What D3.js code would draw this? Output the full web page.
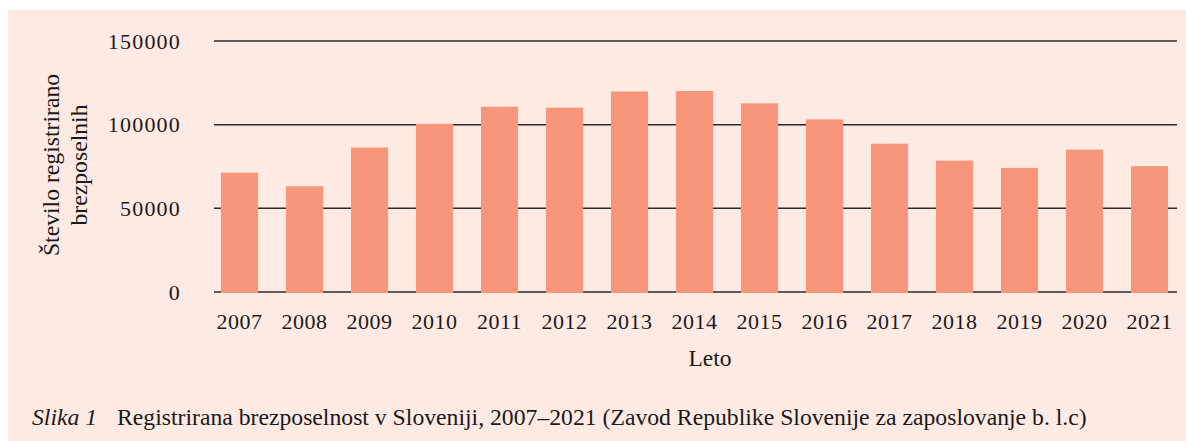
<!DOCTYPE html>
<html>
<head>
<meta charset="utf-8">
<script src="https://cdn.jsdelivr.net/npm/d3@7"></script>
<style>
  body { margin: 0; background: #fff; }
  text { font-family: "Liberation Serif", serif; fill: #1a1a1a; }
</style>
</head>
<body>
<div class="chart"></div>
<script>
// data
const years = ["2007","2008","2009","2010","2011","2012","2013","2014","2015","2016","2017","2018","2019","2020","2021"]
const unemployed = [71336, 63216, 86354, 100504, 110692, 110183, 119827, 120109, 112726, 103152, 88648, 78534, 74178, 85062, 75187]
const yTicks = [0, 50000, 100000, 150000]

const w = 1186
const h = 441

const svg = d3.select(".chart")
  .append("svg")
    .attr("width", w)
    .attr("height", h)

// pink panel
svg.append("rect")
  .attr("x", 8).attr("y", 10)
  .attr("width", w - 8).attr("height", h - 10)
  .attr("fill", "#fdeae3")

const x = d3.scaleBand()
  .domain(years)
  .range([207, 1182])
  .paddingInner(0.43)
  .paddingOuter(0.215)

const y = d3.scaleLinear()
  .domain([0, 150000])
  .range([292, 41])

// gridlines
svg.append("g")
  .selectAll("line")
  .data(yTicks)
  .join("line")
    .attr("x1", 214)
    .attr("x2", 1177)
    .attr("y1", d => y(d))
    .attr("y2", d => y(d))
    .attr("stroke", "#2e2a28")
    .attr("stroke-width", 1.5)

// y tick labels
svg.append("g")
  .selectAll("text")
  .data(yTicks)
  .join("text")
    .attr("x", 181)
    .attr("y", d => y(d) + 7.5)
    .attr("text-anchor", "end")
    .attr("font-size", 22)
    .attr("letter-spacing", 1.2)
    .text(d => d)

// bars
svg.append("g")
  .selectAll("rect")
  .data(unemployed)
  .join("rect")
    .attr("x", (d, i) => x(years[i]))
    .attr("width", x.bandwidth())
    .attr("y", d => y(d))
    .attr("height", d => y(0) - y(d) + 1)
    .attr("fill", "#f7967a")

// x tick labels
svg.append("g")
  .selectAll("text")
  .data(years)
  .join("text")
    .attr("x", d => x(d) + x.bandwidth() / 2)
    .attr("y", 329)
    .attr("text-anchor", "middle")
    .attr("font-size", 22)
    .attr("letter-spacing", 0.5)
    .text(d => d)

// axis titles
svg.append("text")
  .attr("x", 710).attr("y", 366)
  .attr("text-anchor", "middle")
  .attr("font-size", 23.5)
  .text("Leto")

const yTitle = svg.append("text")
  .attr("transform", "translate(0,165) rotate(-90)")
  .attr("text-anchor", "middle")
  .attr("font-size", 23.7)
yTitle.append("tspan").attr("x", 0).attr("y", 59).text("Število registrirano")
yTitle.append("tspan").attr("x", 0).attr("y", 87).text("brezposelnih")

// caption
svg.append("text")
  .attr("x", 32).attr("y", 425)
  .attr("font-size", 23.7)
  .attr("font-style", "italic")
  .text("Slika 1")
svg.append("text")
  .attr("x", 117).attr("y", 425)
  .attr("font-size", 23.7)
  .text("Registrirana brezposelnost v Sloveniji, 2007–2021 (Zavod Republike Slovenije za zaposlovanje b. l.c)")
</script>
</body>
</html>
